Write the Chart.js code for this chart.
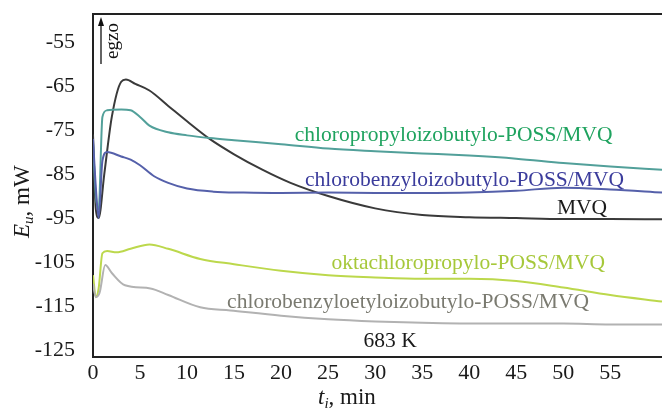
<!DOCTYPE html>
<html>
<head>
<meta charset="utf-8">
<script src="https://cdn.jsdelivr.net/npm/chart.js@4/dist/chart.umd.min.js"></script>
<style>
  html, body { margin: 0; padding: 0; background: #fff; }
  #wrap { width: 662px; height: 413px; }
</style>
</head>
<body>
<div id="wrap"><canvas id="c" width="662" height="413"></canvas></div>
<script>
const xTicks = [0, 5, 10, 15, 20, 25, 30, 35, 40, 45, 50, 55];
const yTicks = [-125, -115, -105, -95, -85, -75, -65, -55];

const mvqX = [0, 0.3, 0.6, 1.2, 2, 3, 3.5, 4.5, 6, 8, 10, 12.4, 15, 18, 21, 25, 30, 35, 40, 45, 50, 55, 60.5];
const mvqY = [-76, -93, -95, -85, -72, -64, -63.5, -64.5, -66, -69.5, -73, -77, -80.5, -84, -87, -90, -92.8, -94.3, -94.8, -95, -95.2, -95.2, -95.3];

const propX = [0, 0.3, 0.6, 1, 1.5, 3, 4, 5, 6, 8, 10, 12.4, 15, 20, 25, 30, 35, 40, 45, 50, 55, 60.5];
const propY = [-78, -90, -93, -72, -70.5, -70.3, -70.5, -72, -74, -75.5, -76.2, -76.8, -77.3, -78.2, -79.2, -79.8, -80.3, -80.8, -81.5, -82.5, -83.3, -84];

const benzX = [0, 0.3, 0.6, 1, 1.5, 3, 4, 5, 6.5, 8, 10, 12.8, 16, 20, 25, 30, 35, 40, 45, 50, 55, 60.5];
const benzY = [-77, -88, -95, -82, -80, -81, -81.7, -83, -85.5, -87, -88.3, -89, -89.2, -89.3, -89.2, -89.3, -89.3, -89.2, -88.8, -88.1, -88.5, -89.2];

const oktaX = [0, 0.3, 0.6, 1, 1.5, 2.5, 4, 6, 8, 11.4, 15, 20, 25, 30, 35, 40, 45, 50, 55, 60.5];
const oktaY = [-108, -113, -111, -103, -102.5, -102.8, -102, -101, -102, -104.3, -105.5, -107, -108, -108.5, -108.8, -108.8, -109.3, -110.8, -112.5, -114];

const etylX = [0, 0.3, 0.7, 1.3, 2, 3.4, 6.1, 8, 11.4, 14.6, 20, 25, 30, 35, 42, 50, 55, 60.5];
const etylY = [-110, -113, -112, -105.7, -107.5, -110.3, -111, -112.5, -115.3, -116, -117.2, -118, -118.5, -118.8, -119, -119, -119.2, -119.2];

const pts = (xs, ys) => xs.map((x, i) => ({ x: x, y: ys[i] }));

const serif = "'Liberation Serif', 'DejaVu Serif', serif";

// podpisy serii (pozycja w jednostkach danych)
const labels = [
  { text: 'chloropropyloizobutylo-POSS/MVQ', x: 38.35, y: -76.1, color: '#1fa35f' },
  { text: 'chlorobenzyloizobutylo-POSS/MVQ', x: 39.5, y: -86.35, color: '#3b3c9c' },
  { text: 'MVQ', x: 52.0, y: -92.7, color: '#1a1a1a' },
  { text: 'oktachloropropylo-POSS/MVQ', x: 39.9, y: -105.2, color: '#a6c83a' },
  { text: 'chlorobenzyloetyloizobutylo-POSS/MVQ', x: 33.5, y: -114.1, color: '#7a7a70' },
  { text: '683 K', x: 31.6, y: -123.0, color: '#1a1a1a' }
];

const decorations = {
  id: 'decorations',
  afterDraw(chart) {
    const ctx = chart.ctx;
    const a = chart.chartArea;
    const sx = chart.scales.x, sy = chart.scales.y;
    ctx.save();
    // ramka
    ctx.strokeStyle = '#222';
    ctx.lineWidth = 2;
    ctx.beginPath();
    ctx.moveTo(a.left, a.top);
    ctx.lineTo(a.right, a.top);
    ctx.stroke();

    ctx.textAlign = 'center';
    ctx.textBaseline = 'middle';
    ctx.font = '21.5px ' + serif;
    labels.forEach(l => {
      ctx.fillStyle = l.color;
      ctx.fillText(l.text, sx.getPixelForValue(l.x), sy.getPixelForValue(l.y));
    });

    // strzałka egzo
    ctx.strokeStyle = '#111';
    ctx.fillStyle = '#111';
    ctx.lineWidth = 1.3;
    ctx.beginPath();
    ctx.moveTo(a.left + 8, a.top + 50);
    ctx.lineTo(a.left + 8, a.top + 8);
    ctx.stroke();
    ctx.beginPath();
    ctx.moveTo(a.left + 8, a.top + 3);
    ctx.lineTo(a.left + 5, a.top + 12);
    ctx.lineTo(a.left + 11, a.top + 12);
    ctx.closePath();
    ctx.fill();
    ctx.save();
    ctx.translate(a.left + 20, a.top + 27);
    ctx.rotate(-Math.PI / 2);
    ctx.font = '19px ' + serif;
    ctx.fillText('egzo', 0, 0);
    ctx.restore();

    // tytuł osi x
    ctx.fillStyle = '#1a1a1a';
    ctx.textAlign = 'left';
    ctx.textBaseline = 'alphabetic';
    let x = 318, y = 404;
    ctx.font = 'italic 23px ' + serif;
    ctx.fillText('t', x, y);
    x += ctx.measureText('t').width;
    ctx.font = 'italic 15px ' + serif;
    ctx.fillText('i', x, y + 4);
    x += ctx.measureText('i').width;
    ctx.font = '23px ' + serif;
    ctx.fillText(', min', x, y);

    // tytuł osi y
    ctx.save();
    ctx.translate(29, 238);
    ctx.rotate(-Math.PI / 2);
    x = 0; y = 0;
    ctx.font = 'italic 23px ' + serif;
    ctx.fillText('E', x, y);
    x += ctx.measureText('E').width;
    ctx.font = 'italic 15px ' + serif;
    ctx.fillText('u', x, y + 4);
    x += ctx.measureText('u').width;
    ctx.font = '23px ' + serif;
    ctx.fillText(', mW', x, y);
    ctx.restore();
    ctx.restore();
  }
};

const line = (data, color) => ({
  data: data,
  borderColor: color,
  borderWidth: 2,
  pointRadius: 0,
  fill: false,
  cubicInterpolationMode: 'monotone'
});

new Chart(document.getElementById('c'), {
  type: 'line',
  data: {
    datasets: [
      line(pts(etylX, etylY), '#b2b2b2'),
      line(pts(oktaX, oktaY), '#bcd84c'),
      line(pts(benzX, benzY), '#5560aa'),
      line(pts(propX, propY), '#52a09a'),
      line(pts(mvqX, mvqY), '#3a3a3a')
    ]
  },
  options: {
    responsive: false,
    animation: false,
    layout: { padding: { top: 14, right: 0, left: 0, bottom: 0 } },
    plugins: { legend: { display: false }, tooltip: { enabled: false } },
    scales: {
      x: {
        type: 'linear',
        min: 0,
        max: 60.5,
        afterFit: s => { s.height = 56; s.paddingLeft = 0; s.paddingRight = 0; },
        afterBuildTicks: s => { s.ticks = xTicks.map(v => ({ value: v })); },
        grid: { display: false },
        border: { display: true, color: '#222', width: 2 },
        ticks: { color: '#1a1a1a', font: { family: serif, size: 22 }, padding: -5, maxRotation: 0 }
      },
      y: {
        min: -126.6,
        max: -48.6,
        afterFit: s => { s.width = 93; s.paddingTop = 0; s.paddingBottom = 0; },
        afterBuildTicks: s => { s.ticks = yTicks.map(v => ({ value: v })); },
        grid: { display: false },
        border: { display: true, color: '#222', width: 2 },
        ticks: { color: '#1a1a1a', font: { family: serif, size: 22 }, padding: 10 }
      }
    }
  },
  plugins: [decorations]
});
</script>
</body>
</html>
